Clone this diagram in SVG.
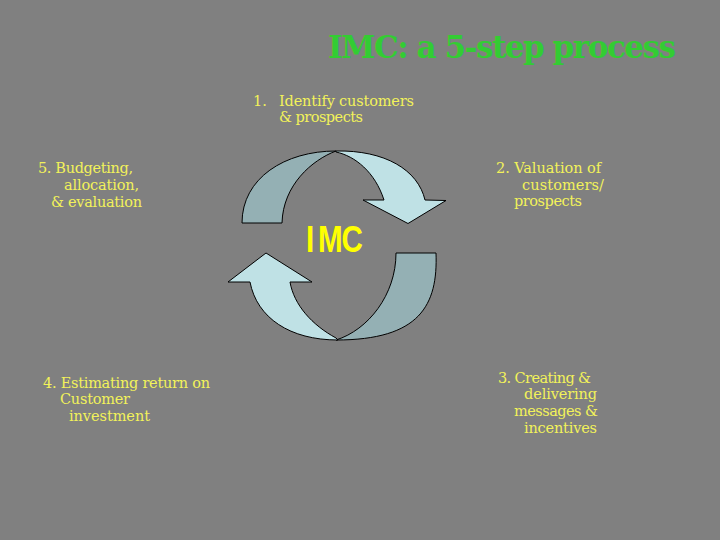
<svg xmlns="http://www.w3.org/2000/svg" width="720" height="540" viewBox="0 0 720 540">
<style>
.t{font-family:"DejaVu Serif","Liberation Serif",serif;font-size:14.5px;fill:#f2f25a}
.title{font-family:"DejaVu Serif","Liberation Serif",serif;font-size:31px;font-weight:bold;fill:#33cc33}
.dark{fill:#94b0b4;stroke:#000;stroke-width:1}
.light{fill:#bfe1e5;stroke:#000;stroke-width:1}
.imc{font-family:"Liberation Sans","Arial",sans-serif;font-size:37px;font-weight:bold;fill:#ffff00}
</style>
<rect x="0" y="0" width="720" height="540" fill="#808080"/>
<text class="title" x="328" y="58" textLength="348">IMC: a 5-step process</text>
<g id="connectors">
<path class="dark" d="M242,223 C242,178 285,151 336,151 C312,160 283,185 282,223 Z"/>
<path class="light" d="M336,151 C385,150 418,170 425,200 L446,200.5 L408,223.5 L363,200 L384,200 C375,172 355,156 336,152 Z"/>
<path class="dark" d="M436,253 C438,305 420,340 336,340 C368,330 396,295 396,253 Z"/>
<path class="light" d="M250,282 C257,318 290,340 338,340 L336,338 C312,325 294,305 290,282 L312,282 L266,253 L228,282 Z"/>
</g>
<g id="center">
<text class="imc" transform="scale(0.8,1)" y="252"><tspan x="382.5">I</tspan><tspan x="397.5">M</tspan><tspan x="427">C</tspan></text>
</g>
<g id="step1">
<text class="t" x="253" y="106">1.</text>
<text class="t" x="279" y="106" textLength="135">Identify customers</text>
<text class="t" x="279" y="122" textLength="84">&amp; prospects</text>
</g>
<g id="step2">
<text class="t" x="496" y="173" textLength="105">2. Valuation of</text>
<text class="t" x="522" y="190" textLength="82">customers/</text>
<text class="t" x="514" y="206" textLength="68">prospects</text>
</g>
<g id="step3">
<text class="t" x="498" y="383" textLength="93">3. Creating &amp;</text>
<text class="t" x="524" y="399" textLength="73">delivering</text>
<text class="t" x="514" y="416" textLength="84">messages &amp;</text>
<text class="t" x="524" y="433" textLength="73">incentives</text>
</g>
<g id="step4">
<text class="t" x="43" y="388" textLength="167">4. Estimating return on</text>
<text class="t" x="60" y="404" textLength="70">Customer</text>
<text class="t" x="69" y="421" textLength="81">investment</text>
</g>
<g id="step5">
<text class="t" x="38" y="173" textLength="95">5. Budgeting,</text>
<text class="t" x="64" y="190" textLength="75">allocation,</text>
<text class="t" x="51" y="207" textLength="91">&amp; evaluation</text>
</g>
</svg>
